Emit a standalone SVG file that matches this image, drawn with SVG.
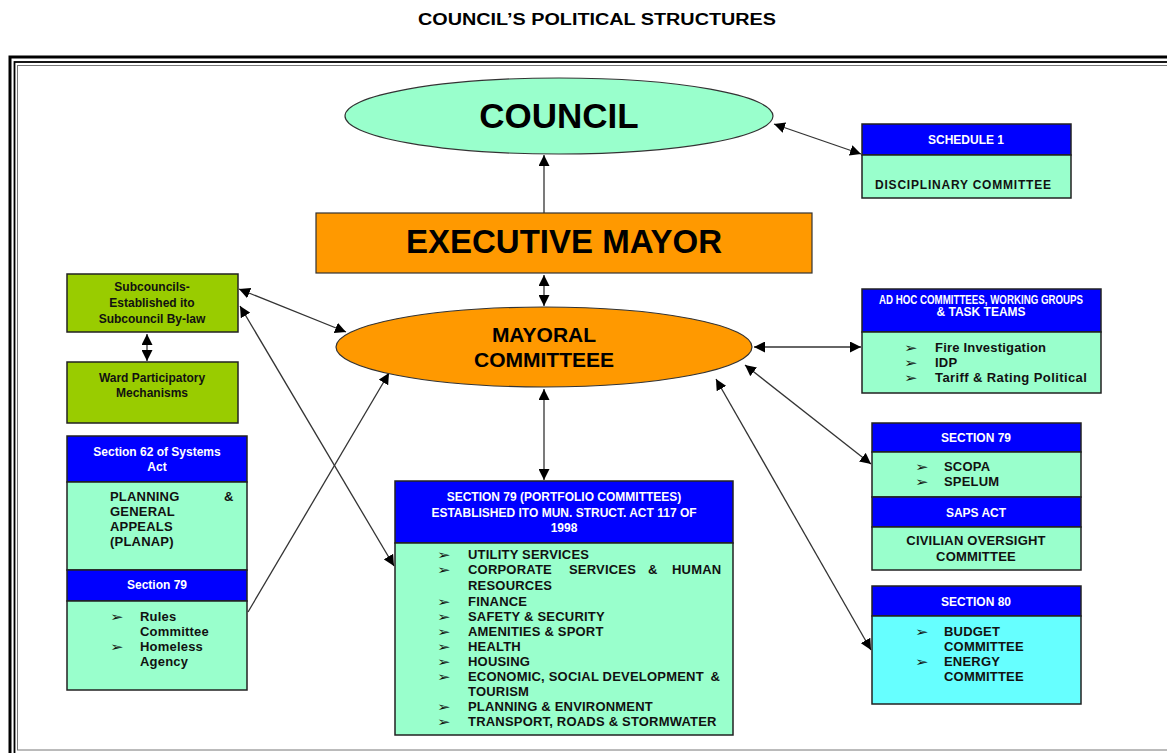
<svg xmlns="http://www.w3.org/2000/svg" width="1167" height="753" viewBox="0 0 1167 753">
<style>
  text { font-family: "Liberation Sans", Arial, sans-serif; font-weight: bold; }
  .hdr { fill: #0000FF; stroke: #222; stroke-width: 1.5; }
  .mint { fill: #99FFCC; stroke: #222; stroke-width: 1.5; }
  .cyan { fill: #66FFFF; stroke: #222; stroke-width: 1.5; }
  .lime { fill: #99CC00; stroke: #222; stroke-width: 1.5; }
  .orange { fill: #FF9900; stroke: #333; stroke-width: 1.2; }
  .wt { fill: #FFFFFF; font-size: 12px; }
  .bk { fill: #111; font-size: 12px; }
  .lst { fill: #111; font-size: 13px; letter-spacing: 0.2px; }
  .bul { font-family: "DejaVu Sans", sans-serif; font-weight: normal; font-size: 12px; fill: #111; }
  .con { stroke: #333; stroke-width: 1.3; fill: none; marker-end: url(#ah); }
  .dbl { marker-start: url(#ahs); }
</style>
<defs>
  <marker id="ah" viewBox="0 0 10 10" refX="10" refY="5" markerWidth="11" markerHeight="11" markerUnits="userSpaceOnUse" orient="auto">
    <path d="M0,0 L10,5 L0,10 Z" fill="#000"/>
  </marker>
  <marker id="ahs" viewBox="0 0 10 10" refX="0" refY="5" markerWidth="11" markerHeight="11" markerUnits="userSpaceOnUse" orient="auto">
    <path d="M10,0 L0,5 L10,10 Z" fill="#000"/>
  </marker>
</defs>

<rect width="1167" height="753" fill="#FFFFFF"/>

<!-- title -->
<text x="597" y="25" text-anchor="middle" font-size="16" fill="#000" textLength="358" lengthAdjust="spacingAndGlyphs">COUNCIL’S POLITICAL STRUCTURES</text>

<!-- page frame (triple line) -->
<g id="frame" fill="none">
  <rect x="10" y="57" width="1170" height="710" stroke="#000" stroke-width="3"/>
  <rect x="14.5" y="62" width="1170" height="700" stroke="#000" stroke-width="1.8"/>
  <rect x="17.5" y="65.5" width="1170" height="684.5" stroke="#777" stroke-width="1"/>
</g>

<!-- connectors -->
<g id="connectors">
  <line class="con" x1="544" y1="213" x2="544" y2="155"/>
  <line class="con dbl" x1="544" y1="275" x2="544" y2="306"/>
  <line class="con dbl" x1="544" y1="389" x2="544" y2="480"/>
  <line class="con dbl" x1="774" y1="124" x2="861" y2="154"/>
  <line class="con dbl" x1="754" y1="347" x2="861" y2="347"/>
  <line class="con dbl" x1="745" y1="365" x2="871" y2="464"/>
  <line class="con dbl" x1="716" y1="379" x2="871" y2="650"/>
  <line class="con dbl" x1="239" y1="289" x2="346" y2="332"/>
  <line class="con dbl" x1="240" y1="306" x2="394" y2="566"/>
  <line class="con dbl" x1="147" y1="334" x2="147" y2="361"/>
  <line class="con" x1="248" y1="612" x2="389" y2="373"/>
</g>

<!-- COUNCIL -->
<g id="council">
  <ellipse cx="559" cy="116" rx="214" ry="38" fill="#99FFCC" stroke="#333" stroke-width="1.2"/>
  <text x="559" y="128" text-anchor="middle" font-size="35" fill="#000">COUNCIL</text>
</g>

<!-- EXECUTIVE MAYOR -->
<g id="executive-mayor">
  <rect class="orange" x="316" y="213" width="496" height="60"/>
  <text x="564" y="253" text-anchor="middle" font-size="33" fill="#000">EXECUTIVE MAYOR</text>
</g>

<!-- MAYORAL COMMITTEE -->
<g id="mayoral-committee">
  <ellipse class="orange" cx="544" cy="347" rx="208" ry="40"/>
  <text x="544" y="342" text-anchor="middle" font-size="21" fill="#000">MAYORAL</text>
  <text x="544" y="367" text-anchor="middle" font-size="21" fill="#000">COMMITTEEE</text>
</g>

<!-- SCHEDULE 1 -->
<g id="schedule-1">
  <rect class="hdr" x="862" y="124" width="209" height="31"/>
  <rect class="mint" x="862" y="155" width="209" height="43"/>
  <text class="wt" x="966" y="144" text-anchor="middle">SCHEDULE 1</text>
  <text class="bk" x="963" y="189" text-anchor="middle" textLength="176">DISCIPLINARY COMMITTEE</text>
</g>

<!-- AD HOC -->
<g id="ad-hoc">
  <rect class="hdr" x="862" y="289" width="239" height="43"/>
  <rect class="mint" x="862" y="332" width="239" height="61"/>
  <text class="wt" x="981" y="304" text-anchor="middle" font-size="9" textLength="204" lengthAdjust="spacingAndGlyphs">AD HOC COMMITTEES, WORKING GROUPS</text>
  <text class="wt" x="981" y="316" text-anchor="middle" font-size="9">&amp; TASK TEAMS</text>
  <text class="bul" transform="translate(904,352) scale(1.35,1)">➢</text>
  <text class="lst" x="935" y="352">Fire Investigation</text>
  <text class="bul" transform="translate(904,367) scale(1.35,1)">➢</text>
  <text class="lst" x="935" y="367">IDP</text>
  <text class="bul" transform="translate(904,382) scale(1.35,1)">➢</text>
  <text class="lst" x="935" y="382" textLength="152" lengthAdjust="spacing">Tariff &amp; Rating Political</text>
</g>

<!-- SECTION 79 / SAPS ACT (right) -->
<g id="section-79-right">
  <rect class="hdr" x="872" y="423" width="209" height="29"/>
  <rect class="mint" x="872" y="452" width="209" height="45"/>
  <rect class="hdr" x="872" y="497" width="209" height="30"/>
  <rect class="mint" x="872" y="527" width="209" height="43"/>
  <text class="wt" x="976" y="442" text-anchor="middle">SECTION 79</text>
  <text class="bul" transform="translate(915,471) scale(1.35,1)">➢</text>
  <text class="lst" x="944" y="471">SCOPA</text>
  <text class="bul" transform="translate(915,486) scale(1.35,1)">➢</text>
  <text class="lst" x="944" y="486">SPELUM</text>
  <text class="wt" x="976" y="517" text-anchor="middle">SAPS ACT</text>
  <text class="lst" x="976" y="545" text-anchor="middle">CIVILIAN OVERSIGHT</text>
  <text class="lst" x="976" y="561" text-anchor="middle">COMMITTEE</text>
</g>

<!-- SECTION 80 -->
<g id="section-80">
  <rect class="hdr" x="872" y="586" width="209" height="30"/>
  <rect class="cyan" x="872" y="616" width="209" height="88"/>
  <text class="wt" x="976" y="606" text-anchor="middle">SECTION 80</text>
  <text class="bul" transform="translate(915,636) scale(1.35,1)">➢</text>
  <text class="lst" x="944" y="636">BUDGET</text>
  <text class="lst" x="944" y="651">COMMITTEE</text>
  <text class="bul" transform="translate(915,666) scale(1.35,1)">➢</text>
  <text class="lst" x="944" y="666">ENERGY</text>
  <text class="lst" x="944" y="681">COMMITTEE</text>
</g>

<!-- Subcouncils -->
<g id="subcouncils">
  <rect class="lime" x="67" y="274" width="171" height="58"/>
  <text class="bk" x="152" y="291" text-anchor="middle">Subcouncils-</text>
  <text class="bk" x="152" y="307" text-anchor="middle">Established ito</text>
  <text class="bk" x="152" y="323" text-anchor="middle">Subcouncil By-law</text>
</g>

<!-- Ward Participatory Mechanisms -->
<g id="ward-participatory">
  <rect class="lime" x="67" y="362" width="171" height="61"/>
  <text class="bk" x="152" y="382" text-anchor="middle">Ward Participatory</text>
  <text class="bk" x="152" y="397" text-anchor="middle">Mechanisms</text>
</g>

<!-- Section 62 / Section 79 (left) -->
<g id="section-62">
  <rect class="hdr" x="67" y="436" width="180" height="46"/>
  <rect class="mint" x="67" y="482" width="180" height="88"/>
  <rect class="hdr" x="67" y="570" width="180" height="31"/>
  <rect class="mint" x="67" y="601" width="180" height="89"/>
  <text class="wt" x="157" y="456" text-anchor="middle">Section 62 of Systems</text>
  <text class="wt" x="157" y="471" text-anchor="middle">Act</text>
  <text class="lst" x="110" y="501">PLANNING</text>
  <text class="lst" x="224" y="501">&amp;</text>
  <text class="lst" x="110" y="516">GENERAL</text>
  <text class="lst" x="110" y="531">APPEALS</text>
  <text class="lst" x="110" y="546">(PLANAP)</text>
  <text class="wt" x="157" y="589" text-anchor="middle">Section 79</text>
  <text class="bul" transform="translate(110,621) scale(1.35,1)">➢</text>
  <text class="lst" x="140" y="621">Rules</text>
  <text class="lst" x="140" y="636">Committee</text>
  <text class="bul" transform="translate(110,651) scale(1.35,1)">➢</text>
  <text class="lst" x="140" y="651">Homeless</text>
  <text class="lst" x="140" y="666">Agency</text>
</g>

<!-- SECTION 79 portfolio committees -->
<g id="portfolio-committees">
  <rect class="hdr" x="395" y="481" width="338" height="62"/>
  <rect class="mint" x="395" y="543" width="338" height="192"/>
  <text class="wt" x="564" y="501" text-anchor="middle">SECTION 79 (PORTFOLIO COMMITTEES)</text>
  <text class="wt" x="564" y="517" text-anchor="middle">ESTABLISHED ITO MUN. STRUCT. ACT 117 OF</text>
  <text class="wt" x="564" y="532" text-anchor="middle">1998</text>
  <g>
    <text class="bul" transform="translate(437,559) scale(1.35,1)">➢</text>
    <text class="lst" x="468" y="559">UTILITY SERVICES</text>
    <text class="bul" transform="translate(437,574) scale(1.35,1)">➢</text>
    <text class="lst" y="574"><tspan x="468">CORPORATE</tspan><tspan x="569">SERVICES</tspan><tspan x="648">&amp;</tspan><tspan x="672">HUMAN</tspan></text>
    <text class="lst" x="468" y="590">RESOURCES</text>
    <text class="bul" transform="translate(437,606) scale(1.35,1)">➢</text>
    <text class="lst" x="468" y="606">FINANCE</text>
    <text class="bul" transform="translate(437,621) scale(1.35,1)">➢</text>
    <text class="lst" x="468" y="621">SAFETY &amp; SECURITY</text>
    <text class="bul" transform="translate(437,636) scale(1.35,1)">➢</text>
    <text class="lst" x="468" y="636">AMENITIES &amp; SPORT</text>
    <text class="bul" transform="translate(437,651) scale(1.35,1)">➢</text>
    <text class="lst" x="468" y="651">HEALTH</text>
    <text class="bul" transform="translate(437,666) scale(1.35,1)">➢</text>
    <text class="lst" x="468" y="666">HOUSING</text>
    <text class="bul" transform="translate(437,681) scale(1.35,1)">➢</text>
    <text class="lst" y="681"><tspan x="468">ECONOMIC, SOCIAL DEVELOPMENT</tspan><tspan x="720" text-anchor="end">&amp;</tspan></text>
    <text class="lst" x="468" y="696">TOURISM</text>
    <text class="bul" transform="translate(437,711) scale(1.35,1)">➢</text>
    <text class="lst" x="468" y="711">PLANNING &amp; ENVIRONMENT</text>
    <text class="bul" transform="translate(437,726) scale(1.35,1)">➢</text>
    <text class="lst" x="468" y="726">TRANSPORT, ROADS &amp; STORMWATER</text>
  </g>
</g>
</svg>
